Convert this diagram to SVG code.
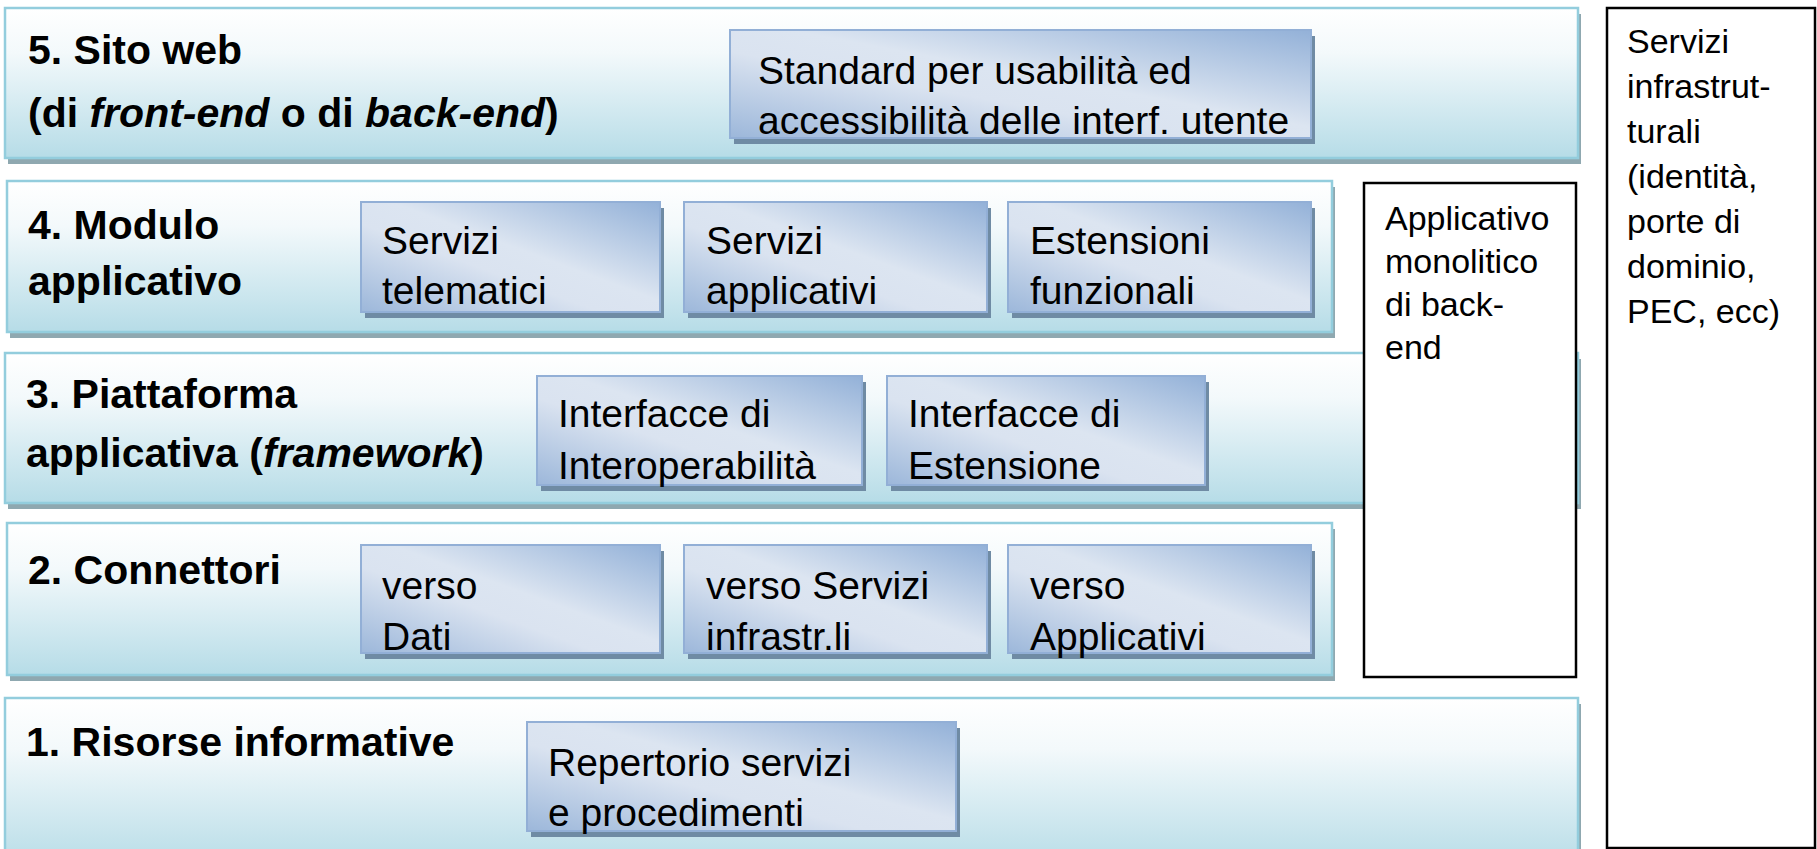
<svg xmlns="http://www.w3.org/2000/svg" width="1817" height="849" viewBox="0 0 1817 849">
<style>
.layer{fill:url(#gLayer);stroke:#93CDDD;stroke-width:2.5}
.lshadow{fill:#8FA8B0}
.box{fill:url(#gBox);stroke:#92AFD6;stroke-width:2}
.bshadow{fill:#6F8BA4}
.side{fill:#FFFFFF;stroke:#000000;stroke-width:2.5}
.lbl{font-family:"Liberation Sans",Arial,sans-serif;font-weight:bold;font-size:41px;fill:#000}
.txt{font-family:"Liberation Sans",Arial,sans-serif;font-size:39px;fill:#000}
.stxt{font-family:"Liberation Sans",Arial,sans-serif;font-size:34px;fill:#000}
.it{font-style:italic}
</style>
<defs>
<linearGradient id="gLayer" x1="0" y1="0" x2="0" y2="1">
<stop offset="0" stop-color="#FFFFFF"/>
<stop offset="0.3" stop-color="#F3F9FB"/>
<stop offset="1" stop-color="#B6DCE7"/>
</linearGradient>
<linearGradient id="gBox" x1="1" y1="0" x2="0" y2="1">
<stop offset="0" stop-color="#93B1D8"/>
<stop offset="0.45" stop-color="#DCE5F1"/>
<stop offset="0.6" stop-color="#DAE3F0"/>
<stop offset="1" stop-color="#9CB7DA"/>
</linearGradient>
</defs>

<g id="servizi-infrastrutturali">
<rect class="side" x="1607" y="8" width="208" height="840"/>
<text class="stxt" x="1627" y="53">Servizi</text>
<text class="stxt" x="1627" y="98">infrastrut-</text>
<text class="stxt" x="1627" y="143">turali</text>
<text class="stxt" x="1627" y="188">(identità,</text>
<text class="stxt" x="1627" y="233">porte di</text>
<text class="stxt" x="1627" y="278">dominio,</text>
<text class="stxt" x="1627" y="323">PEC, ecc)</text>
</g>

<g id="layer5">
<rect class="lshadow" x="8" y="14" width="1573" height="150"/>
<rect class="layer" x="5" y="8" width="1573" height="150"/>
<text class="lbl" x="28" y="64">5. Sito web</text>
<text class="lbl" x="28" y="127">(di <tspan class="it">front-end</tspan> o di <tspan class="it">back-end</tspan>)</text>
</g>
<g id="box-standard">
<rect class="bshadow" x="734" y="36" width="581" height="108"/>
<rect class="box" x="730" y="30" width="581" height="108"/>
<text class="txt" x="758" y="84">Standard per usabilità ed</text>
<text class="txt" x="758" y="134">accessibilità delle interf. utente</text>
</g>

<g id="layer4">
<rect class="lshadow" x="10" y="187" width="1325" height="151"/>
<rect class="layer" x="7" y="181" width="1325" height="151"/>
<text class="lbl" x="28" y="239">4. Modulo</text>
<text class="lbl" x="28" y="295">applicativo</text>
</g>
<g id="box-servizi-telematici">
<rect class="bshadow" x="365" y="208" width="299" height="110"/>
<rect class="box" x="361" y="202" width="299" height="110"/>
<text class="txt" x="382" y="254">Servizi</text>
<text class="txt" x="382" y="304">telematici</text>
</g>
<g id="box-servizi-applicativi">
<rect class="bshadow" x="688" y="208" width="303" height="110"/>
<rect class="box" x="684" y="202" width="303" height="110"/>
<text class="txt" x="706" y="254">Servizi</text>
<text class="txt" x="706" y="304">applicativi</text>
</g>
<g id="box-estensioni-funzionali">
<rect class="bshadow" x="1012" y="208" width="303" height="110"/>
<rect class="box" x="1008" y="202" width="303" height="110"/>
<text class="txt" x="1030" y="254">Estensioni</text>
<text class="txt" x="1030" y="304">funzionali</text>
</g>

<g id="layer3">
<rect class="lshadow" x="8" y="359" width="1573" height="150"/>
<rect class="layer" x="5" y="353" width="1573" height="150"/>
<text class="lbl" x="26" y="408">3. Piattaforma</text>
<text class="lbl" x="26" y="467">applicativa (<tspan class="it">framework</tspan>)</text>
</g>
<g id="box-interfacce-interoperabilita">
<rect class="bshadow" x="541" y="382" width="325" height="109"/>
<rect class="box" x="537" y="376" width="325" height="109"/>
<text class="txt" x="558" y="427">Interfacce di</text>
<text class="txt" x="558" y="479">Interoperabilità</text>
</g>
<g id="box-interfacce-estensione">
<rect class="bshadow" x="891" y="382" width="318" height="109"/>
<rect class="box" x="887" y="376" width="318" height="109"/>
<text class="txt" x="908" y="427">Interfacce di</text>
<text class="txt" x="908" y="479">Estensione</text>
</g>

<g id="layer2">
<rect class="lshadow" x="10" y="529" width="1325" height="152"/>
<rect class="layer" x="7" y="523" width="1325" height="152"/>
<text class="lbl" x="28" y="584">2. Connettori</text>
</g>
<g id="box-verso-dati">
<rect class="bshadow" x="365" y="551" width="299" height="108"/>
<rect class="box" x="361" y="545" width="299" height="108"/>
<text class="txt" x="382" y="599">verso</text>
<text class="txt" x="382" y="650">Dati</text>
</g>
<g id="box-verso-servizi">
<rect class="bshadow" x="688" y="551" width="303" height="108"/>
<rect class="box" x="684" y="545" width="303" height="108"/>
<text class="txt" x="706" y="599">verso Servizi</text>
<text class="txt" x="706" y="650">infrastr.li</text>
</g>
<g id="box-verso-applicativi">
<rect class="bshadow" x="1012" y="551" width="303" height="108"/>
<rect class="box" x="1008" y="545" width="303" height="108"/>
<text class="txt" x="1030" y="599">verso</text>
<text class="txt" x="1030" y="650">Applicativi</text>
</g>

<g id="layer1">
<rect class="lshadow" x="8" y="704" width="1573" height="170"/>
<rect class="layer" x="5" y="698" width="1573" height="170"/>
<text class="lbl" x="26" y="756">1. Risorse informative</text>
</g>
<g id="box-repertorio">
<rect class="bshadow" x="531" y="728" width="429" height="109"/>
<rect class="box" x="527" y="722" width="429" height="109"/>
<text class="txt" x="548" y="776">Repertorio servizi</text>
<text class="txt" x="548" y="826">e procedimenti</text>
</g>

<g id="applicativo-monolitico">
<rect class="side" x="1364" y="183" width="212" height="494"/>
<text class="stxt" x="1385" y="230">Applicativo</text>
<text class="stxt" x="1385" y="273">monolitico</text>
<text class="stxt" x="1385" y="316">di back-</text>
<text class="stxt" x="1385" y="359">end</text>
</g>

<g id="connectors"/>
</svg>
